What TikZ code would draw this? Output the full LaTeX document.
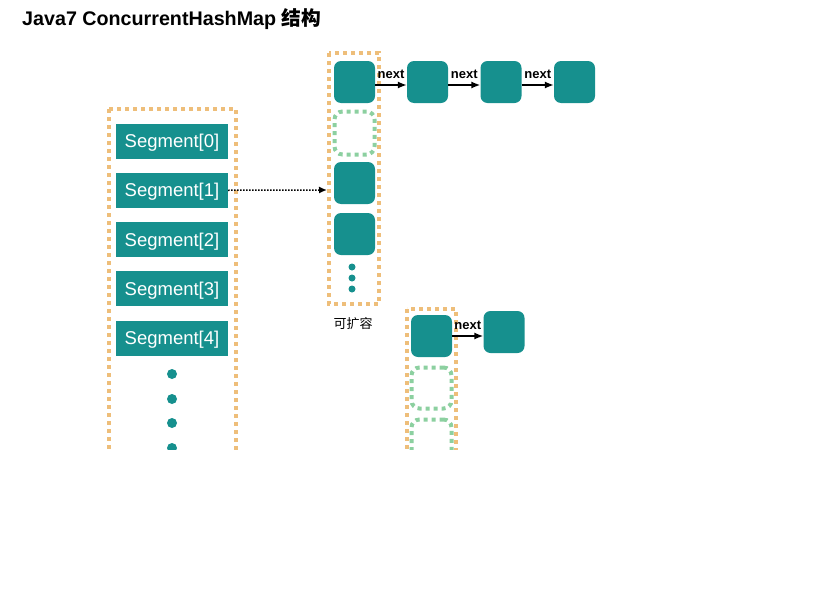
\documentclass[tikz,border=0pt]{standalone}
\usepackage{fontspec}
\setmainfont{Liberation Sans}
\newfontfamily\cjk{Noto Sans CJK SC}
\usetikzlibrary{arrows.meta}
\definecolor{segteal}{RGB}{22,144,142}
\definecolor{frameorange}{RGB}{238,190,122}
\definecolor{slotgreen}{RGB}{140,208,160}
\begin{document}
\begin{tikzpicture}[x=1pt,y=-1pt,
    segment/.style={fill=segteal,text=white,minimum width=112pt,minimum height=35pt,inner sep=0pt,text height=13.2pt,text depth=0pt,font=\fontsize{18.5}{18.5}\selectfont},
    bucket/.style={fill=segteal,rounded corners=7pt,minimum width=41pt,minimum height=42pt,inner sep=0pt},
    emptyslot/.style={draw=slotgreen,line width=4pt,dash pattern=on 4pt off 4pt,rounded corners=8pt,minimum width=40pt,minimum height=43pt,inner sep=0pt},
    frame/.style={draw=frameorange,line width=4.5pt,dash pattern=on 4pt off 4pt},
    nextlbl/.style={font=\bfseries\fontsize{13}{13}\selectfont,inner sep=0pt},
    link/.style={-{Latex[length=9pt,width=7pt]},line width=1.4pt}]
  \useasboundingbox (0,0) rectangle (835,605);
  \node[anchor=west,inner sep=0pt,font=\bfseries\fontsize{19.7}{19.7}\selectfont] (title) at (22,19) {Java7 ConcurrentHashMap {\cjk 结构}};
  \begin{scope}
    \clip (0,0) rectangle (835,449);
    \draw[frame] (109,109) rectangle (236,480);
    \foreach \i in {0,...,4}
      \node[segment] (seg\i) at (172,141+49.25*\i) {Segment[\i]};
    \foreach \y in {374,399,423,448}
      \fill[segteal] (172,\y) circle (5pt);
    \draw[frame] (329,53) rectangle (379,304);
    \node[bucket] (b0) at (354.5,82) {};
    \node[emptyslot] (e1) at (354.5,133) {};
    \node[bucket] (b2) at (354.5,183) {};
    \node[bucket] (b3) at (354.5,234) {};
    \foreach \y in {267,278,289}
      \fill[segteal] (352,\y) circle (3.5pt);
    \node[bucket] (c1) at (427.5,82) {};
    \node[bucket] (c2) at (501,82) {};
    \node[bucket] (c3) at (574.5,82) {};
    \draw[link] ([yshift=-3pt]b0.east) -- ([yshift=-3pt]c1.west) node[midway,above=6pt,nextlbl] {next};
    \draw[link] ([yshift=-3pt]c1.east) -- ([yshift=-3pt]c2.west) node[midway,above=6pt,nextlbl] {next};
    \draw[link] ([yshift=-3pt]c2.east) -- ([yshift=-3pt]c3.west) node[midway,above=6pt,nextlbl] {next};
    \coordinate (slotin) at (327,190);
    \draw[line width=1.5pt,dash pattern=on 1.5pt off 1.5pt,-{Latex[length=8pt,width=7pt]}] (seg1.east) -- (slotin);
    \node[font=\cjk\fontsize{13}{13}\selectfont,inner sep=0pt] (grow) at (353,324) {可扩容};
    \draw[frame] (407,309) rectangle (456,480);
    \node[bucket] (d0) at (431.5,336) {};
    \node[emptyslot,minimum height=41pt] (d1) at (431.5,388) {};
    \node[emptyslot,minimum height=41pt] (d2) at (431.5,440) {};
    \node[bucket] (dn) at (504,332) {};
    \draw[link] (d0.east) -- (d0.east -| dn.west) node[midway,above=6pt,nextlbl] {next};
  \end{scope}
\end{tikzpicture}
\end{document}
